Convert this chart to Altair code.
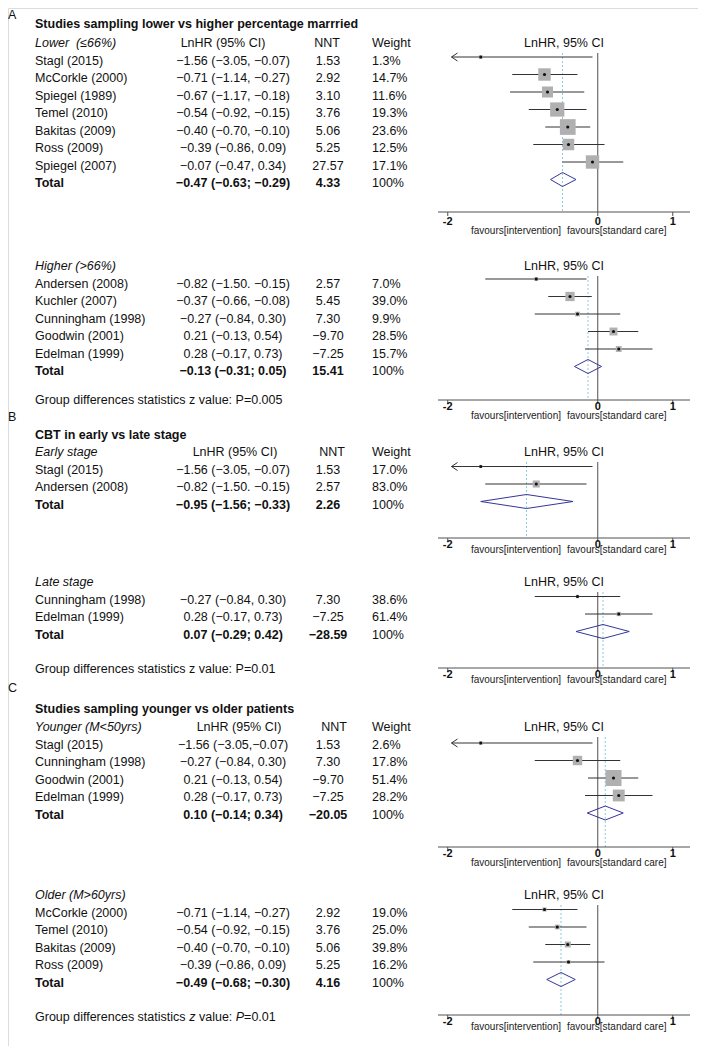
import altair as alt
import pandas as pd

# ---------------- data ----------------
A1_STUDY = ["Stagl (2015)", "McCorkle (2000)", "Spiegel (1989)", "Temel (2010)",
            "Bakitas (2009)", "Ross (2009)", "Spiegel (2007)"]
A1_EST = [-1.56, -0.71, -0.67, -0.54, -0.40, -0.39, -0.07]
A1_LO = [-3.05, -1.14, -1.17, -0.92, -0.70, -0.86, -0.47]
A1_HI = [-0.07, -0.27, -0.18, -0.15, -0.10, 0.09, 0.34]
A1_CI = ["−1.56 (−3.05, −0.07)", "−0.71 (−1.14, −0.27)", "−0.67 (−1.17, −0.18)",
         "−0.54 (−0.92, −0.15)", "−0.40 (−0.70, −0.10)", "−0.39 (−0.86, 0.09)",
         "−0.07 (−0.47, 0.34)"]
A1_NNT = [1.53, 2.92, 3.10, 3.76, 5.06, 5.25, 27.57]
A1_WEIGHT = [1.3, 14.7, 11.6, 19.3, 23.6, 12.5, 17.1]

A2_STUDY = ["Andersen (2008)", "Kuchler (2007)", "Cunningham (1998)", "Goodwin (2001)", "Edelman (1999)"]
A2_EST = [-0.82, -0.37, -0.27, 0.21, 0.28]
A2_LO = [-1.50, -0.66, -0.84, -0.13, -0.17]
A2_HI = [-0.15, -0.08, 0.30, 0.54, 0.73]
A2_CI = ["−0.82 (−1.50. −0.15)", "−0.37 (−0.66, −0.08)", "−0.27 (−0.84, 0.30)",
         "0.21 (−0.13, 0.54)", "0.28 (−0.17, 0.73)"]
A2_NNT = [2.57, 5.45, 7.30, -9.70, -7.25]
A2_WEIGHT = [7.0, 39.0, 9.9, 28.5, 15.7]

B1_STUDY = ["Stagl (2015)", "Andersen (2008)"]
B1_EST = [-1.56, -0.82]
B1_LO = [-3.05, -1.50]
B1_HI = [-0.07, -0.15]
B1_CI = ["−1.56 (−3.05, −0.07)", "−0.82 (−1.50. −0.15)"]
B1_NNT = [1.53, 2.57]
B1_WEIGHT = [17.0, 83.0]

B2_STUDY = ["Cunningham (1998)", "Edelman (1999)"]
B2_EST = [-0.27, 0.28]
B2_LO = [-0.84, -0.17]
B2_HI = [0.30, 0.73]
B2_CI = ["−0.27 (−0.84, 0.30)", "0.28 (−0.17, 0.73)"]
B2_NNT = [7.30, -7.25]
B2_WEIGHT = [38.6, 61.4]

C1_STUDY = ["Stagl (2015)", "Cunningham (1998)", "Goodwin (2001)", "Edelman (1999)"]
C1_EST = [-1.56, -0.27, 0.21, 0.28]
C1_LO = [-3.05, -0.84, -0.13, -0.17]
C1_HI = [-0.07, 0.30, 0.54, 0.73]
C1_CI = ["−1.56 (−3.05,−0.07)", "−0.27 (−0.84, 0.30)", "0.21 (−0.13, 0.54)", "0.28 (−0.17, 0.73)"]
C1_NNT = [1.53, 7.30, -9.70, -7.25]
C1_WEIGHT = [2.6, 17.8, 51.4, 28.2]

C2_STUDY = ["McCorkle (2000)", "Temel (2010)", "Bakitas (2009)", "Ross (2009)"]
C2_EST = [-0.71, -0.54, -0.40, -0.39]
C2_LO = [-1.14, -0.92, -0.70, -0.86]
C2_HI = [-0.27, -0.15, -0.10, 0.09]
C2_CI = ["−0.71 (−1.14, −0.27)", "−0.54 (−0.92, −0.15)", "−0.40 (−0.70, −0.10)", "−0.39 (−0.86, 0.09)"]
C2_NNT = [2.92, 3.76, 5.06, 5.25]
C2_WEIGHT = [19.0, 25.0, 39.8, 16.2]

PANEL_IDS = ["A1", "A2", "B1", "B2", "C1", "C2"]
GROUP_LABELS = ["Lower\u00a0 (≤66%)", "Higher (>66%)", "Early stage", "Late stage",
                "Younger (M<50yrs)", "Older (M>60yrs)"]
TOTAL_EST = [-0.47, -0.13, -0.95, 0.07, 0.10, -0.49]
TOTAL_LO = [-0.63, -0.31, -1.56, -0.29, -0.14, -0.68]
TOTAL_HI = [-0.29, 0.05, -0.33, 0.42, 0.34, -0.30]
TOTAL_CI = ["−0.47 (−0.63; −0.29)", "−0.13 (−0.31; 0.05)", "−0.95 (−1.56; −0.33)",
            "0.07 (−0.29; 0.42)", "0.10 (−0.14; 0.34)", "−0.49 (−0.68; −0.30)"]
TOTAL_NNT = [4.33, 15.41, 2.26, -28.59, -20.05, 4.16]
TOTAL_WEIGHT = "100%"

SECTION_LETTERS = ["A", "B", "C"]
SECTION_TITLES = ["Studies sampling lower vs higher percentage marrried",
                  "CBT in early vs late stage",
                  "Studies sampling younger vs older patients"]
# group-difference line as words: (word, italic?, space after?)
GROUP_DIFF = [
    [("Group differences statistics z value: P=0.005", False, False)],
    [("Group differences statistics z value: P=0.01", False, False)],
    [("Group differences statistics", False, True), ("z", True, True),
     ("value:", False, True), ("P", True, False), ("=0.01", False, False)],
]
COL_HEADERS = ["LnHR (95% CI)", "NNT", "Weight"]
FOREST_TITLE = "LnHR, 95% CI"
FAVOURS = ["favours[intervention]", "favours[standard care]"]
TICKS = [-2, 0, 1]

PANEL_DATA = {
    "A1": (A1_STUDY, A1_EST, A1_LO, A1_HI, A1_CI, A1_NNT, A1_WEIGHT),
    "A2": (A2_STUDY, A2_EST, A2_LO, A2_HI, A2_CI, A2_NNT, A2_WEIGHT),
    "B1": (B1_STUDY, B1_EST, B1_LO, B1_HI, B1_CI, B1_NNT, B1_WEIGHT),
    "B2": (B2_STUDY, B2_EST, B2_LO, B2_HI, B2_CI, B2_NNT, B2_WEIGHT),
    "C1": (C1_STUDY, C1_EST, C1_LO, C1_HI, C1_CI, C1_NNT, C1_WEIGHT),
    "C2": (C2_STUDY, C2_EST, C2_LO, C2_HI, C2_CI, C2_NNT, C2_WEIGHT),
}

# ---------------- layout ----------------
W, H = 690, 1038
LINE = 17.5          # px per table line
PAGE_OFF = 8
FS = 12.5


def L(px):
    return (px - PAGE_OFF) / LINE


PANEL_LAYOUT = {
    "A1": dict(header=43, shift=-3.5, axis_gap=29, tick_dy=10, fav_dy=19, k2=10.5),
    "A2": dict(header=266, shift=-4.5, axis_gap=29, tick_dy=7, fav_dy=16, k2=2.2),
    "B1": dict(header=452, shift=-3, axis_gap=33.5, tick_dy=7, fav_dy=12, k2=0.6),
    "B2": dict(header=582, shift=-3, axis_gap=33.5, tick_dy=7, fav_dy=12, k2=0.3),
    "C1": dict(header=727, shift=-1.5, axis_gap=32.5, tick_dy=7, fav_dy=16, k2=5.0),
    "C2": dict(header=895, shift=-3, axis_gap=32.5, tick_dy=7, fav_dy=12, k2=0.9),
}
SECTION_LAYOUT = {
    "A": dict(letter=15, title=24, diff=400),
    "B": dict(letter=417, title=435, diff=669),
    "C": dict(letter=688, title=709, diff=1017),
}
COL_X = {"letter": 0, "study": 27, "ci": 225, "nnt": 320, "weight": 364,
         "cihead_A": 215, "cihead_B": 227, "cihead_C": 231,
         "nnthead_A": 319, "nnthead_B": 324, "nnthead_C": 326}
LEFT_COLS = {"letter", "study", "weight"}

# Arial / Liberation Sans advance widths (1/1000 em) for laying out mixed-style text
ADV = {" ": 278, "G": 778, "r": 333, "o": 556, "u": 556, "p": 556, "d": 556, "i": 222,
       "f": 278, "e": 556, "n": 556, "c": 500, "s": 500, "t": 278, "a": 556, "z": 500,
       "v": 500, "l": 222, ":": 278, "P": 667}


def text_width(s):
    return sum(ADV.get(ch, 556) for ch in s) * FS / 1000


XMIN, XMAX = -2.13, 1.23
XMID = (XMIN + XMAX) / 2
CLIP = -1.95
FONT = "Liberation Sans, Arial, Helvetica, sans-serif"
INK = "#111111"


def fmt(v):
    return f"{v:.2f}".replace("-", "−")


# ---------------- build tables ----------------
text_rows = []
forest_rows = []
diamond_rows = []
panel_rows = []
tick_rows = []
arrow_rows = []
seg_rows = []


def add(line, text, col, style="normal"):
    text_rows.append(dict(line=line, text=text, col=col, style=style))


for si, sec in enumerate(SECTION_LETTERS):
    sl = SECTION_LAYOUT[sec]
    add(L(sl["letter"]), SECTION_LETTERS[si], "letter")
    add(L(sl["title"]), SECTION_TITLES[si], "study", "bold")
    off = 0.0
    for word, ital, sp in GROUP_DIFF[si]:
        seg_rows.append(dict(line=L(sl["diff"]), text=word, off=off, italic=ital))
        off += text_width(word) + (text_width(" ") if sp else 0)

for pi, pid in enumerate(PANEL_IDS):
    sec = pid[0]
    lay = PANEL_LAYOUT[pid]
    study, est, lo, hi, ci, nnt, wt = PANEL_DATA[pid]
    h = L(lay["header"])
    add(h, GROUP_LABELS[pi], "study", "italic")
    if pid.endswith("1"):
        add(h, COL_HEADERS[0], "cihead_" + sec)
        add(h, COL_HEADERS[1], "nnthead_" + sec)
        add(h, COL_HEADERS[2], "weight")
    shift = lay["shift"] / LINE
    for i in range(len(study)):
        line = h + i + 1
        add(line, study[i], "study")
        add(line, ci[i], "ci")
        add(line, fmt(nnt[i]), "nnt")
        add(line, f"{wt[i]:.1f}%", "weight")
        forest_rows.append(dict(panel=pid, fline=line + shift, est=est[i],
                                lo_plot=max(lo[i], CLIP), hi=hi[i],
                                area=lay["k2"] * wt[i]))
        if lo[i] < CLIP:
            arrow_rows.append(dict(panel=pid, x=CLIP, fline=line + shift))
    tline = h + len(study) + 1
    add(tline, "Total", "study", "bold")
    add(tline, TOTAL_CI[pi], "ci", "bold")
    add(tline, fmt(TOTAL_NNT[pi]), "nnt", "bold")
    add(tline, TOTAL_WEIGHT, "weight")
    dy = tline + shift
    hh = 7 / LINE
    pts = [(TOTAL_LO[pi], dy), (TOTAL_EST[pi], dy - hh), (TOTAL_HI[pi], dy),
           (TOTAL_EST[pi], dy + hh), (TOTAL_LO[pi], dy)]
    for k, (xx, yy) in enumerate(pts):
        diamond_rows.append(dict(panel=pid, ord=k, x=xx, y=yy))
    axis = tline + lay["axis_gap"] / LINE
    panel_rows.append(dict(panel=pid, top=h + 10 / LINE, axis=axis, pooled=TOTAL_EST[pi],
                           zero=0.0, xmin=XMIN, xmax=XMAX, mid=XMID, title=FOREST_TITLE,
                           tline=h, fav=axis + lay["fav_dy"] / LINE,
                           fav_l=FAVOURS[0], fav_r=FAVOURS[1]))
    for t in TICKS:
        tick_rows.append(dict(panel=pid, tick=t, axis=axis, tend=axis + 4 / LINE,
                              lab=axis + lay["tick_dy"] / LINE, label=str(t)))

tdf = pd.DataFrame(text_rows)
fdf = pd.DataFrame(forest_rows)
ddf = pd.DataFrame(diamond_rows)
pdf = pd.DataFrame(panel_rows)
kdf = pd.DataFrame(tick_rows)
adf = pd.DataFrame(arrow_rows)
sdf = pd.DataFrame(seg_rows)

YS = alt.Scale(domain=[0, H / LINE], reverse=True, nice=False, zero=False)
XS = alt.Scale(domain=[XMIN, XMAX], range=[430, 682], nice=False, zero=False)


def Y(field):
    return alt.Y(field, type="quantitative", scale=YS, axis=None)


def X(field):
    return alt.X(field, type="quantitative", scale=XS, axis=None)


layers = []

# table text
for (col, style), sub in tdf.groupby(["col", "style"]):
    kw = dict(align="left" if col in LEFT_COLS else "center", baseline="middle",
              font=FONT, fontSize=FS, color=INK)
    if style == "bold":
        kw["fontWeight"] = "bold"
    if style == "italic":
        kw["fontStyle"] = "italic"
    layers.append(alt.Chart(sub.reset_index(drop=True)).mark_text(**kw).encode(
        x=alt.value(COL_X[col]), y=Y("line"), text="text:N"))

# group-difference lines (mixed roman / italic words)
for _, r in sdf.iterrows():
    kw = dict(align="left", baseline="middle", font=FONT, fontSize=FS, color=INK)
    if r["italic"]:
        kw["fontStyle"] = "italic"
    seg = pd.DataFrame([dict(line=r["line"], text=r["text"])])
    layers.append(alt.Chart(seg).mark_text(**kw).encode(
        x=alt.value(COL_X["study"] + r["off"]), y=Y("line"), text="text:N"))

# forest frames
layers.append(alt.Chart(pdf).mark_rule(color="#8cc8e4", strokeWidth=1, strokeDash=[2, 2]).encode(
    x=X("pooled"), y=Y("top"), y2="axis:Q"))
layers.append(alt.Chart(pdf).mark_rule(color="#505050", strokeWidth=1).encode(
    x=X("zero"), y=Y("top"), y2="axis:Q"))
layers.append(alt.Chart(pdf).mark_rule(color="#505050", strokeWidth=1).encode(
    x=X("xmin"), x2="xmax:Q", y=Y("axis")))
layers.append(alt.Chart(kdf).mark_rule(color="#505050", strokeWidth=1).encode(
    x=X("tick"), y=Y("axis"), y2="tend:Q"))
layers.append(alt.Chart(kdf).mark_text(font=FONT, fontSize=11, fontWeight="bold", color=INK,
                                       baseline="middle", align="center").encode(
    x=X("tick"), y=Y("lab"), text="label:N"))
layers.append(alt.Chart(pdf).mark_text(font=FONT, fontSize=FS, color=INK,
                                       baseline="middle", align="center").encode(
    x=X("mid"), y=Y("tline"), text="title:N"))
layers.append(alt.Chart(pdf).mark_text(font=FONT, fontSize=10, color="#222222",
                                       baseline="middle", align="right", dx=-3).encode(
    x=X("mid"), y=Y("fav"), text="fav_l:N"))
layers.append(alt.Chart(pdf).mark_text(font=FONT, fontSize=10, color="#222222",
                                       baseline="middle", align="left", dx=3).encode(
    x=X("mid"), y=Y("fav"), text="fav_r:N"))

# study CIs, squares, dots, arrows
layers.append(alt.Chart(fdf).mark_rule(color="#333333", strokeWidth=1).encode(
    x=X("lo_plot"), x2="hi:Q", y=Y("fline")))
layers.append(alt.Chart(fdf).mark_square(color="#b0b0b0", opacity=1).encode(
    x=X("est"), y=Y("fline"), size=alt.Size("area:Q", scale=None, legend=None)))
layers.append(alt.Chart(fdf).mark_circle(color="#111111", size=10, opacity=1).encode(
    x=X("est"), y=Y("fline")))
layers.append(alt.Chart(adf).mark_point(shape="M1.5,-1L0,0L1.5,1", filled=False,
                                        stroke="#333333", strokeWidth=1, size=64, opacity=1).encode(
    x=X("x"), y=Y("fline")))

# pooled diamonds
layers.append(alt.Chart(ddf).mark_line(color="#35359a", strokeWidth=1).encode(
    x=X("x"), y=Y("y"), detail="panel:N", order="ord:Q"))

chart = alt.layer(*layers).properties(width=W, height=H, padding=0).configure_view(
    stroke=None).configure(background="white")

chart.save("out.html", embed_options={"renderer": "svg", "actions": False})
